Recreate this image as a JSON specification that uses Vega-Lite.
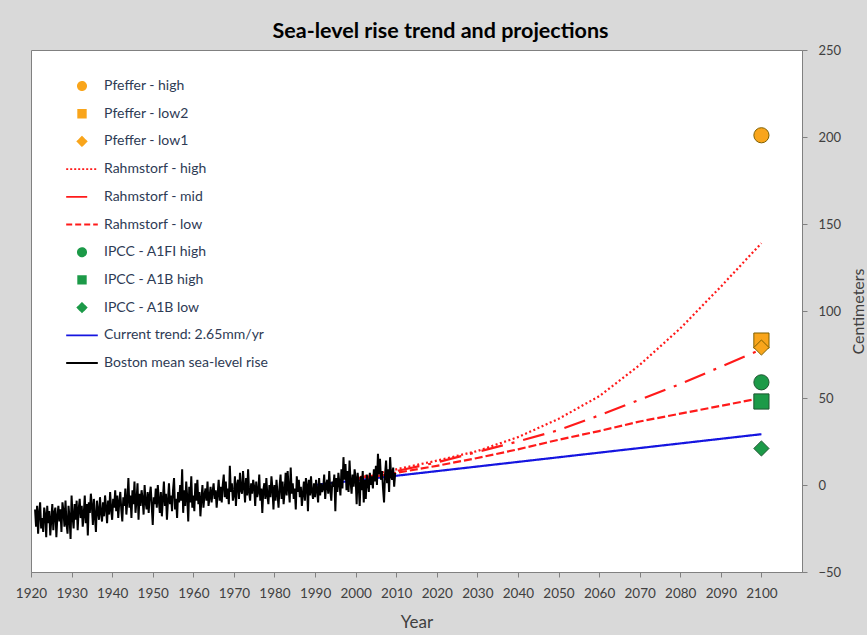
{
  "$schema": "https://vega.github.io/schema/vega-lite/v6.json",
  "width": 771,
  "height": 522,
  "autosize": "none",
  "padding": {"left": 31, "top": 50, "right": 65, "bottom": 63},
  "background": "#d9d9d9",
  "title": {"text": "Sea-level rise trend and projections", "font": "Lato", "fontSize": 21.5, "fontWeight": "bold", "color": "#000000", "anchor": "middle", "dx": 24, "offset": 2},
  "config": {
    "view": {"stroke": "#808080", "fill": "#ffffff", "strokeWidth": 1},
    "font": "Lato"
  },
  "datasets": {
    "proj": [
      {"s": "Current trend: 2.65mm/yr", "t": 1990, "v": 0},
      {"s": "Current trend: 2.65mm/yr", "t": 2100, "v": 29.2},
      {"s": "Rahmstorf - low", "t": 2000, "v": 3},
      {"s": "Rahmstorf - low", "t": 2010, "v": 7},
      {"s": "Rahmstorf - low", "t": 2020, "v": 11},
      {"s": "Rahmstorf - low", "t": 2030, "v": 15.5},
      {"s": "Rahmstorf - low", "t": 2040, "v": 20.5},
      {"s": "Rahmstorf - low", "t": 2050, "v": 26},
      {"s": "Rahmstorf - low", "t": 2060, "v": 31},
      {"s": "Rahmstorf - low", "t": 2070, "v": 36.5},
      {"s": "Rahmstorf - low", "t": 2080, "v": 41},
      {"s": "Rahmstorf - low", "t": 2090, "v": 45.5},
      {"s": "Rahmstorf - low", "t": 2100, "v": 50},
      {"s": "Rahmstorf - mid", "t": 2000, "v": 3.5},
      {"s": "Rahmstorf - mid", "t": 2010, "v": 8},
      {"s": "Rahmstorf - mid", "t": 2020, "v": 13},
      {"s": "Rahmstorf - mid", "t": 2030, "v": 19},
      {"s": "Rahmstorf - mid", "t": 2040, "v": 25},
      {"s": "Rahmstorf - mid", "t": 2050, "v": 31.5},
      {"s": "Rahmstorf - mid", "t": 2060, "v": 40},
      {"s": "Rahmstorf - mid", "t": 2070, "v": 49},
      {"s": "Rahmstorf - mid", "t": 2080, "v": 58},
      {"s": "Rahmstorf - mid", "t": 2090, "v": 68},
      {"s": "Rahmstorf - mid", "t": 2100, "v": 78},
      {"s": "Rahmstorf - high", "t": 2000, "v": 4},
      {"s": "Rahmstorf - high", "t": 2010, "v": 9},
      {"s": "Rahmstorf - high", "t": 2020, "v": 14},
      {"s": "Rahmstorf - high", "t": 2030, "v": 19.5},
      {"s": "Rahmstorf - high", "t": 2040, "v": 27.5},
      {"s": "Rahmstorf - high", "t": 2050, "v": 38},
      {"s": "Rahmstorf - high", "t": 2060, "v": 51},
      {"s": "Rahmstorf - high", "t": 2070, "v": 69},
      {"s": "Rahmstorf - high", "t": 2080, "v": 90},
      {"s": "Rahmstorf - high", "t": 2090, "v": 114},
      {"s": "Rahmstorf - high", "t": 2100, "v": 139}
    ],
    "pts": [
      {"s": "Pfeffer - high", "t": 2100, "v": 201},
      {"s": "Pfeffer - low2", "t": 2100, "v": 83},
      {"s": "Pfeffer - low1", "t": 2100, "v": 79},
      {"s": "IPCC - A1FI high", "t": 2100, "v": 59},
      {"s": "IPCC - A1B high", "t": 2100, "v": 48},
      {"s": "IPCC - A1B low", "t": 2100, "v": 21}
    ],
    "boston": [
      {"t":1921,"v":-14},{"t":1921.25,"v":-24},{"t":1921.5,"v":-12},{"t":1921.75,"v":-28},
      {"t":1922,"v":-16},{"t":1922.25,"v":-10},{"t":1922.5,"v":-25},{"t":1922.75,"v":-19},
      {"t":1923,"v":-27},{"t":1923.25,"v":-13},{"t":1923.5,"v":-17},{"t":1923.75,"v":-30},
      {"t":1924,"v":-12},{"t":1924.25,"v":-22},{"t":1924.5,"v":-15},{"t":1924.75,"v":-29},
      {"t":1925,"v":-20},{"t":1925.25,"v":-11},{"t":1925.5,"v":-26},{"t":1925.75,"v":-16},
      {"t":1926,"v":-13},{"t":1926.25,"v":-30},{"t":1926.5,"v":-18},{"t":1926.75,"v":-12},
      {"t":1927,"v":-21},{"t":1927.25,"v":-14},{"t":1927.5,"v":-27},{"t":1927.75,"v":-10},
      {"t":1928,"v":-15},{"t":1928.25,"v":-24},{"t":1928.5,"v":-9},{"t":1928.75,"v":-22},
      {"t":1929,"v":-28},{"t":1929.25,"v":-12},{"t":1929.5,"v":-19},{"t":1929.75,"v":-31},
      {"t":1930,"v":-6},{"t":1930.25,"v":-18},{"t":1930.5,"v":-25},{"t":1930.75,"v":-11},
      {"t":1931,"v":-20},{"t":1931.25,"v":-9},{"t":1931.5,"v":-26},{"t":1931.75,"v":-14},
      {"t":1932,"v":-8},{"t":1932.25,"v":-19},{"t":1932.5,"v":-12},{"t":1932.75,"v":-24},
      {"t":1933,"v":-17},{"t":1933.25,"v":-6},{"t":1933.5,"v":-22},{"t":1933.75,"v":-11},
      {"t":1934,"v":-29},{"t":1934.25,"v":-10},{"t":1934.5,"v":-16},{"t":1934.75,"v":-5},
      {"t":1935,"v":-12},{"t":1935.25,"v":-23},{"t":1935.5,"v":-8},{"t":1935.75,"v":-18},
      {"t":1936,"v":-27},{"t":1936.25,"v":-9},{"t":1936.5,"v":-15},{"t":1936.75,"v":-20},
      {"t":1937,"v":-7},{"t":1937.25,"v":-16},{"t":1937.5,"v":-21},{"t":1937.75,"v":-10},
      {"t":1938,"v":-18},{"t":1938.25,"v":-6},{"t":1938.5,"v":-13},{"t":1938.75,"v":-22},
      {"t":1939,"v":-9},{"t":1939.25,"v":-17},{"t":1939.5,"v":-4},{"t":1939.75,"v":-14},
      {"t":1940,"v":-20},{"t":1940.25,"v":-8},{"t":1940.5,"v":-13},{"t":1940.75,"v":-3},
      {"t":1941,"v":-15},{"t":1941.25,"v":-6},{"t":1941.5,"v":-19},{"t":1941.75,"v":-10},
      {"t":1942,"v":-4},{"t":1942.25,"v":-14},{"t":1942.5,"v":-21},{"t":1942.75,"v":-7},
      {"t":1943,"v":-12},{"t":1943.25,"v":-2},{"t":1943.5,"v":-17},{"t":1943.75,"v":-9},
      {"t":1944,"v":4},{"t":1944.25,"v":-13},{"t":1944.5,"v":-6},{"t":1944.75,"v":-19},
      {"t":1945,"v":-3},{"t":1945.25,"v":-11},{"t":1945.5,"v":2},{"t":1945.75,"v":-16},
      {"t":1946,"v":-9},{"t":1946.25,"v":1},{"t":1946.5,"v":-20},{"t":1946.75,"v":-5},
      {"t":1947,"v":-12},{"t":1947.25,"v":-3},{"t":1947.5,"v":-8},{"t":1947.75,"v":-17},
      {"t":1948,"v":0},{"t":1948.25,"v":-10},{"t":1948.5,"v":-14},{"t":1948.75,"v":-4},
      {"t":1949,"v":-16},{"t":1949.25,"v":-6},{"t":1949.5,"v":-1},{"t":1949.75,"v":-12},
      {"t":1950,"v":-23},{"t":1950.25,"v":-7},{"t":1950.5,"v":-11},{"t":1950.75,"v":-2},
      {"t":1951,"v":-13},{"t":1951.25,"v":0},{"t":1951.5,"v":-9},{"t":1951.75,"v":-16},
      {"t":1952,"v":-4},{"t":1952.25,"v":-18},{"t":1952.5,"v":-8},{"t":1952.75,"v":2},
      {"t":1953,"v":-12},{"t":1953.25,"v":-5},{"t":1953.5,"v":-20},{"t":1953.75,"v":-9},
      {"t":1954,"v":1},{"t":1954.25,"v":-11},{"t":1954.5,"v":-6},{"t":1954.75,"v":-15},
      {"t":1955,"v":-3},{"t":1955.25,"v":4},{"t":1955.5,"v":-14},{"t":1955.75,"v":-8},
      {"t":1956,"v":-19},{"t":1956.25,"v":-4},{"t":1956.5,"v":-10},{"t":1956.75,"v":0},
      {"t":1957,"v":-9},{"t":1957.25,"v":9},{"t":1957.5,"v":-16},{"t":1957.75,"v":-3},
      {"t":1958,"v":-12},{"t":1958.25,"v":2},{"t":1958.5,"v":-7},{"t":1958.75,"v":-21},
      {"t":1959,"v":-1},{"t":1959.25,"v":-10},{"t":1959.5,"v":5},{"t":1959.75,"v":-13},
      {"t":1960,"v":-6},{"t":1960.25,"v":-15},{"t":1960.5,"v":1},{"t":1960.75,"v":-9},
      {"t":1961,"v":3},{"t":1961.25,"v":-11},{"t":1961.5,"v":-4},{"t":1961.75,"v":-18},
      {"t":1962,"v":-8},{"t":1962.25,"v":0},{"t":1962.5,"v":-13},{"t":1962.75,"v":-6},
      {"t":1963,"v":-2},{"t":1963.25,"v":-9},{"t":1963.5,"v":2},{"t":1963.75,"v":-12},
      {"t":1964,"v":-7},{"t":1964.25,"v":-1},{"t":1964.5,"v":-10},{"t":1964.75,"v":-4},
      {"t":1965,"v":1},{"t":1965.25,"v":-8},{"t":1965.5,"v":-3},{"t":1965.75,"v":-13},
      {"t":1966,"v":-5},{"t":1966.25,"v":3},{"t":1966.5,"v":-9},{"t":1966.75,"v":-1},
      {"t":1967,"v":-10},{"t":1967.25,"v":0},{"t":1967.5,"v":6},{"t":1967.75,"v":-7},
      {"t":1968,"v":2},{"t":1968.25,"v":-8},{"t":1968.5,"v":-2},{"t":1968.75,"v":-11},
      {"t":1969,"v":11},{"t":1969.25,"v":-4},{"t":1969.5,"v":1},{"t":1969.75,"v":-9},
      {"t":1970,"v":-6},{"t":1970.25,"v":5},{"t":1970.5,"v":-12},{"t":1970.75,"v":0},
      {"t":1971,"v":3},{"t":1971.25,"v":-8},{"t":1971.5,"v":7},{"t":1971.75,"v":-3},
      {"t":1972,"v":-5},{"t":1972.25,"v":8},{"t":1972.5,"v":-1},{"t":1972.75,"v":-10},
      {"t":1973,"v":4},{"t":1973.25,"v":-6},{"t":1973.5,"v":9},{"t":1973.75,"v":-4},
      {"t":1974,"v":-9},{"t":1974.25,"v":1},{"t":1974.5,"v":-5},{"t":1974.75,"v":3},
      {"t":1975,"v":-1},{"t":1975.25,"v":-12},{"t":1975.5,"v":2},{"t":1975.75,"v":-7},
      {"t":1976,"v":-4},{"t":1976.25,"v":6},{"t":1976.5,"v":-9},{"t":1976.75,"v":-2},
      {"t":1977,"v":-16},{"t":1977.25,"v":-3},{"t":1977.5,"v":1},{"t":1977.75,"v":-8},
      {"t":1978,"v":4},{"t":1978.25,"v":-6},{"t":1978.5,"v":-11},{"t":1978.75,"v":0},
      {"t":1979,"v":-7},{"t":1979.25,"v":5},{"t":1979.5,"v":-2},{"t":1979.75,"v":-14},
      {"t":1980,"v":0},{"t":1980.25,"v":-9},{"t":1980.5,"v":3},{"t":1980.75,"v":-5},
      {"t":1981,"v":-13},{"t":1981.25,"v":-1},{"t":1981.5,"v":6},{"t":1981.75,"v":-8},
      {"t":1982,"v":2},{"t":1982.25,"v":-11},{"t":1982.5,"v":-4},{"t":1982.75,"v":7},
      {"t":1983,"v":-6},{"t":1983.25,"v":8},{"t":1983.5,"v":-2},{"t":1983.75,"v":-10},
      {"t":1984,"v":10},{"t":1984.25,"v":-5},{"t":1984.5,"v":1},{"t":1984.75,"v":-8},
      {"t":1985,"v":-2},{"t":1985.25,"v":-14},{"t":1985.5,"v":5},{"t":1985.75,"v":-4},
      {"t":1986,"v":3},{"t":1986.25,"v":-7},{"t":1986.5,"v":-1},{"t":1986.75,"v":-12},
      {"t":1987,"v":-5},{"t":1987.25,"v":2},{"t":1987.5,"v":-9},{"t":1987.75,"v":4},
      {"t":1988,"v":0},{"t":1988.25,"v":-15},{"t":1988.5,"v":3},{"t":1988.75,"v":-6},
      {"t":1989,"v":5},{"t":1989.25,"v":-4},{"t":1989.5,"v":-8},{"t":1989.75,"v":1},
      {"t":1990,"v":-7},{"t":1990.25,"v":3},{"t":1990.5,"v":-3},{"t":1990.75,"v":-10},
      {"t":1991,"v":4},{"t":1991.25,"v":-6},{"t":1991.5,"v":1},{"t":1991.75,"v":-4},
      {"t":1992,"v":-2},{"t":1992.25,"v":6},{"t":1992.5,"v":-8},{"t":1992.75,"v":0},
      {"t":1993,"v":3},{"t":1993.25,"v":-5},{"t":1993.5,"v":8},{"t":1993.75,"v":-3},
      {"t":1994,"v":-9},{"t":1994.25,"v":2},{"t":1994.5,"v":-1},{"t":1994.75,"v":6},
      {"t":1995,"v":-15},{"t":1995.25,"v":4},{"t":1995.5,"v":-4},{"t":1995.75,"v":7},
      {"t":1996,"v":1},{"t":1996.25,"v":-6},{"t":1996.5,"v":9},{"t":1996.75,"v":-2},
      {"t":1997,"v":16},{"t":1997.25,"v":3},{"t":1997.5,"v":12},{"t":1997.75,"v":-3},
      {"t":1998,"v":8},{"t":1998.25,"v":-4},{"t":1998.5,"v":14},{"t":1998.75,"v":2},
      {"t":1999,"v":-5},{"t":1999.25,"v":6},{"t":1999.5,"v":-1},{"t":1999.75,"v":9},
      {"t":2000,"v":4},{"t":2000.25,"v":-11},{"t":2000.5,"v":7},{"t":2000.75,"v":0},
      {"t":2001,"v":-12},{"t":2001.25,"v":5},{"t":2001.5,"v":-3},{"t":2001.75,"v":8},
      {"t":2002,"v":-10},{"t":2002.25,"v":3},{"t":2002.5,"v":-8},{"t":2002.75,"v":6},
      {"t":2003,"v":1},{"t":2003.25,"v":-4},{"t":2003.5,"v":7},{"t":2003.75,"v":0},
      {"t":2004,"v":5},{"t":2004.25,"v":-2},{"t":2004.5,"v":9},{"t":2004.75,"v":2},
      {"t":2005,"v":11},{"t":2005.25,"v":0},{"t":2005.5,"v":18},{"t":2005.75,"v":6},
      {"t":2006,"v":15},{"t":2006.25,"v":3},{"t":2006.5,"v":8},{"t":2006.75,"v":-2},
      {"t":2007,"v":-10},{"t":2007.25,"v":6},{"t":2007.5,"v":14},{"t":2007.75,"v":1},
      {"t":2008,"v":9},{"t":2008.25,"v":-4},{"t":2008.5,"v":16},{"t":2008.75,"v":5},
      {"t":2009,"v":3},{"t":2009.25,"v":10},{"t":2009.5,"v":-1},{"t":2009.75,"v":7}
    ]
  },
  "encoding": {
    "x": {"field": "t", "type": "quantitative", "scale": {"domain": [1920, 2110], "nice": false, "zero": false},
      "axis": {"title": "Year", "values": [1920,1930,1940,1950,1960,1970,1980,1990,2000,2010,2020,2030,2040,2050,2060,2070,2080,2090,2100], "format": "d", "grid": false, "labelOverlap": false, "labelBound": false, "labelFlush": false, "domainColor": "#808080", "tickColor": "#808080", "tickSize": 5, "labelPadding": 9, "labelFont": "Lato", "labelFontSize": 13.5, "labelColor": "#404040", "titleFont": "Lato", "titleFontSize": 17, "titleFontWeight": "normal", "titleColor": "#404040", "titlePadding": 15}},
    "y": {"field": "v", "type": "quantitative", "scale": {"domain": [-50, 250], "nice": false, "zero": false},
      "axis": {"orient": "right", "title": "Centimeters", "values": [-50,0,50,100,150,200,250], "grid": false, "labelOverlap": false, "labelFlush": false, "domainColor": "#808080", "tickColor": "#808080", "tickSize": 5, "labelPadding": 11, "labelFont": "Lato", "labelFontSize": 13, "labelColor": "#404040", "titleFont": "Lato", "titleFontSize": 16, "titleFontWeight": "normal", "titleColor": "#404040", "titleAngle": -90, "titleBaseline": "top", "titlePadding": 10}}
  },
  "layer": [
    {
      "data": {"name": "proj"},
      "mark": {"type": "line", "strokeWidth": 2.2},
      "encoding": {
        "color": {"field": "s", "type": "nominal",
          "scale": {"domain": ["Pfeffer - high","Pfeffer - low2","Pfeffer - low1","Rahmstorf - high","Rahmstorf - mid","Rahmstorf - low","IPCC - A1FI high","IPCC - A1B high","IPCC - A1B low","Current trend: 2.65mm/yr","Boston mean sea-level rise"],
                    "range": ["#f9a51b","#f9a51b","#f9a51b","#ff1a1a","#ff1a1a","#ff1a1a","#1c9a48","#1c9a48","#1c9a48","#1515e0","#000000"]},
          "legend": {
            "title": null, "orient": "none", "legendX": 34, "legendY": 28, "padding": 0,
            "symbolSize": 1000, "symbolStrokeWidth": 1.8, "clipHeight": 16, "rowPadding": 11.7,
            "labelFont": "Lato", "labelFontSize": 14, "labelColor": "#2e3b55", "labelOffset": 5, "labelLimit": 300,
            "encode": {"symbols": {"update": {
              "shape": {"signal": "datum.value == 'Pfeffer - high' || datum.value == 'IPCC - A1FI high' ? 'M-0.26,0A0.26,0.26 0 1,0 0.26,0A0.26,0.26 0 1,0 -0.26,0Z' : datum.value == 'Pfeffer - low2' || datum.value == 'IPCC - A1B high' ? 'M-0.24,-0.24L0.24,-0.24L0.24,0.24L-0.24,0.24Z' : datum.value == 'Pfeffer - low1' || datum.value == 'IPCC - A1B low' ? 'M0,-0.28L0.28,0L0,0.28L-0.28,0Z' : 'stroke'"},
              "fill": {"signal": "indexof(datum.value,'Pfeffer') == 0 ? '#f9a51b' : indexof(datum.value,'IPCC') == 0 ? '#1c9a48' : 'transparent'"},
              "stroke": {"signal": "indexof(datum.value,'Pfeffer') == 0 ? '#8a6a10' : indexof(datum.value,'IPCC') == 0 ? '#1e5631' : indexof(datum.value,'Rahm') == 0 ? '#ff1a1a' : indexof(datum.value,'Current') == 0 ? '#1515e0' : '#000000'"},
              "strokeDash": {"signal": "datum.value == 'Rahmstorf - high' ? [2,2] : datum.value == 'Rahmstorf - mid' ? [21,40] : datum.value == 'Rahmstorf - low' ? [6,3] : [1,0]"},
              "opacity": {"value": 1}
            }}}
          }},
        "strokeDash": {"field": "s", "type": "nominal",
          "scale": {"domain": ["Rahmstorf - high","Rahmstorf - mid","Rahmstorf - low","Current trend: 2.65mm/yr"], "range": [[2,2.5],[22,9,3,9],[8,3],[1,0]]},
          "legend": null}
      }
    },
    {
      "data": {"name": "boston"},
      "mark": {"type": "line", "strokeWidth": 2},
      "encoding": {
        "color": {"datum": "Boston mean sea-level rise", "type": "nominal"}
      }
    },
    {
      "data": {"name": "pts"},
      "mark": {"type": "point", "filled": true, "size": 230, "opacity": 1, "strokeWidth": 1},
      "encoding": {
        "color": {"field": "s", "type": "nominal"},
        "shape": {"field": "s", "type": "nominal",
          "scale": {"domain": ["Pfeffer - high","Pfeffer - low2","Pfeffer - low1","IPCC - A1FI high","IPCC - A1B high","IPCC - A1B low"], "range": ["circle","square","diamond","circle","square","diamond"]},
          "legend": null},
        "stroke": {"field": "s", "type": "nominal",
          "scale": {"domain": ["Pfeffer - high","Pfeffer - low2","Pfeffer - low1","IPCC - A1FI high","IPCC - A1B high","IPCC - A1B low"], "range": ["#7f6000","#7f6000","#7f6000","#1e5631","#1e5631","#1e5631"]},
          "legend": null}
      }
    }
  ]
}
